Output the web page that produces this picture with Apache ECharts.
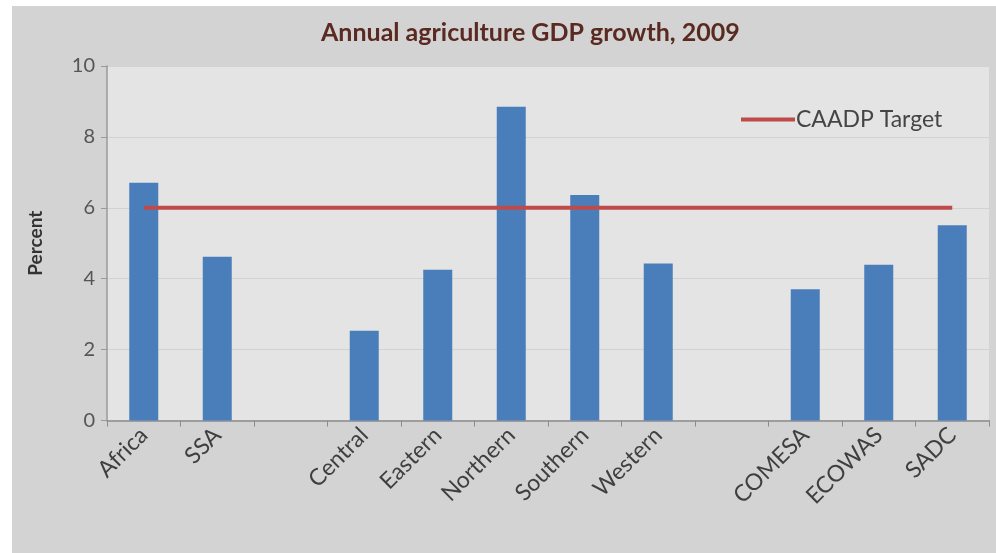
<!DOCTYPE html>
<html>
<head>
<meta charset="utf-8">
<script src="https://cdn.jsdelivr.net/npm/echarts@6/dist/echarts.min.js"></script>
<style>
  html, body { margin: 0; padding: 0; background: #ffffff; }
  #chart { width: 996px; height: 553px; }
</style>
</head>
<body>
<div id="chart"></div>
<script>
// Regions and regional economic communities
const categories = ['Africa', 'SSA', '', 'Central', 'Eastern', 'Northern', 'Southern', 'Western', '', 'COMESA', 'ECOWAS', 'SADC'];
// Annual agriculture GDP growth, 2009 (percent)
const growth = [6.71, 4.62, null, 2.53, 4.25, 8.85, 6.36, 4.43, null, 3.70, 4.39, 5.51];
// CAADP 6% growth target
const target = [6, 6, 6, 6, 6, 6, 6, 6, 6, 6, 6, 6];
const yTicks = [0, 2, 4, 6, 8, 10];

const chart = echarts.init(document.getElementById('chart'));
const font = 'Lato, "Open Sans", sans-serif';

chart.setOption({
  backgroundColor: '#ffffff',
  animation: false,
  textStyle: { fontFamily: font },
  graphic: [{
    type: 'rect',
    z: -10,
    silent: true,
    shape: { x: 12, y: 6, width: 984, height: 547 },
    style: { fill: '#d3d3d3' }
  }],
  title: {
    text: 'Annual agriculture GDP growth, 2009',
    left: 316,
    top: 15,
    textStyle: { fontFamily: font, fontSize: 25, fontWeight: 'bold', color: '#5a2a22' }
  },
  legend: {
    data: [{ name: 'CAADP Target', icon: 'rect' }],
    left: 736,
    top: 103,
    itemWidth: 54,
    itemHeight: 4,
    textStyle: { fontFamily: font, fontSize: 23, color: '#454545', padding: [0, 0, 0, -4] }
  },
  grid: {
    left: 107, right: 7, top: 66, bottom: 132.5,
    show: true, backgroundColor: '#e4e4e4', borderWidth: 0
  },
  xAxis: {
    type: 'category',
    data: categories,
    boundaryGap: true,
    axisLine: { lineStyle: { color: '#8c8c8c', width: 1.5 } },
    axisTick: { show: true, alignWithLabel: false, interval: 0, length: 6, lineStyle: { color: '#8c8c8c' } },
    axisLabel: { interval: 0, rotate: 45, margin: 11, fontFamily: font, fontSize: 23, color: '#3f3f3f' }
  },
  yAxis: {
    type: 'value',
    min: yTicks[0],
    max: yTicks[yTicks.length - 1],
    interval: 2,
    name: 'Percent',
    nameLocation: 'middle',
    nameGap: 62,
    nameTextStyle: { fontFamily: font, fontSize: 19, fontWeight: 'bold', color: '#333333' },
    axisLine: { show: true, lineStyle: { color: '#9a9a9a', width: 1.5 } },
    axisTick: { show: true, length: 6, lineStyle: { color: '#9a9a9a' } },
    axisLabel: { margin: 12, fontFamily: font, fontSize: 20, color: '#555555' },
    splitLine: { show: true, lineStyle: { color: '#d2d2d2', width: 1 } }
  },
  series: [
    {
      name: 'Growth',
      type: 'bar',
      data: growth,
      barWidth: 29,
      itemStyle: { color: '#4a7ebb' },
      z: 2
    },
    {
      name: 'CAADP Target',
      type: 'line',
      data: target,
      symbol: 'none',
      showSymbol: false,
      lineStyle: { color: '#be4b4a', width: 4 },
      itemStyle: { color: '#be4b4a' },
      z: 3
    }
  ]
});
</script>
</body>
</html>
